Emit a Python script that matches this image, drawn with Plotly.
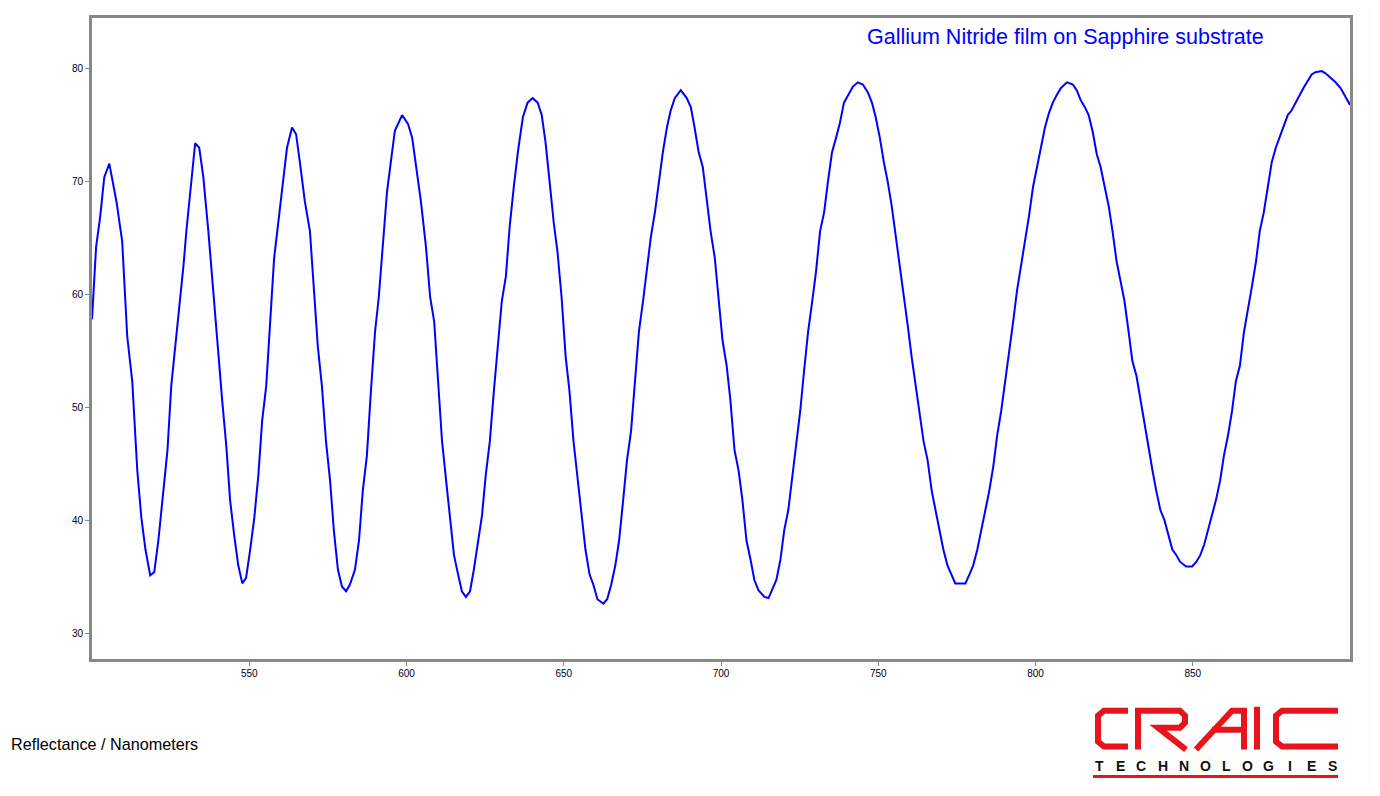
import plotly.graph_objects as go

# ---- data ----
wavelength_nm = [
    500.0, 501.3, 502.6, 503.9, 505.5, 507.8, 509.6, 511.2, 512.8, 514.4, 515.7, 517.0, 518.5, 519.8,
    521.1, 522.7, 524.0, 525.2, 526.8, 528.1, 529.1, 530.0, 531.2, 532.8, 534.1,
    535.4, 537.0, 538.5, 540.1, 541.4, 542.7, 543.9, 545.2, 546.5, 547.8, 549.0,
    550.3, 551.6, 552.9, 554.1, 555.4, 556.7, 557.9, 559.2, 560.8, 562.0, 563.6, 564.9,
    566.1, 567.7, 569.3, 570.6, 571.8, 573.1, 574.4, 575.7, 576.9, 578.2, 579.5, 580.8, 582.0,
    583.6, 584.9, 586.1, 587.4, 588.7, 590.0, 591.2, 592.5, 593.8, 595.0, 596.3, 598.6, 600.5, 601.8,
    603.0, 604.6, 606.2, 607.5, 608.8, 610.0, 611.3, 612.6, 613.8, 615.1, 616.4, 617.6, 618.9, 620.2,
    621.4, 622.7, 624.0, 625.2, 626.5, 627.8, 629.0, 630.3, 631.6, 632.8, 634.1, 635.4, 637.0, 638.5,
    640.1, 641.7, 643.0,
    644.2, 645.5, 646.8, 648.0, 649.3, 650.6, 651.8, 653.1, 654.4, 655.6, 656.9, 658.2, 659.4, 660.7,
    662.6, 663.8,
    665.1, 666.4, 667.6, 668.9, 670.1, 671.4, 672.7, 673.9, 675.2, 676.4, 677.7, 679.0, 680.2, 681.5,
    682.8, 684.0, 685.3, 687.2, 689.1, 690.4,
    691.6, 692.9, 694.2, 695.4, 696.7, 698.0, 699.2, 700.5, 701.8, 703.0, 704.3, 705.6, 706.8, 708.1,
    709.4, 710.6, 711.9, 713.8, 715.1, 716.3,
    717.6, 718.9, 720.1, 721.4, 722.7, 723.9, 725.2, 726.4, 727.7, 729.0, 730.2, 731.5, 732.8, 734.0,
    735.3, 736.6, 737.8, 739.1, 740.4, 741.9, 743.5, 745.1, 746.7, 748.0,
    749.2, 750.5, 751.8, 753.0, 754.3, 755.6, 756.8, 758.1, 759.4, 760.6, 761.9, 763.2, 764.4, 765.7,
    767.0, 768.2, 769.5, 770.7, 772.0, 773.3, 774.5, 776.1, 777.7, 779.0,
    780.2, 781.5, 782.8, 784.0, 785.3, 786.6, 787.8, 789.1, 790.4, 791.6, 792.9, 794.1, 795.4, 796.7,
    797.9, 799.2, 800.5, 801.7, 803.0, 804.3, 805.5, 806.8, 808.1, 810.0, 811.9, 813.1, 814.4,
    815.7, 816.9, 818.2, 819.5, 820.7, 822.0, 823.3, 824.5, 825.8, 827.1, 828.3, 829.6, 830.8, 832.1,
    833.4, 834.6, 835.9, 837.2, 838.4, 839.7, 841.0, 842.2, 843.5, 844.8, 846.0, 847.9, 849.8, 851.1,
    852.4, 853.6, 854.9, 856.2, 857.4, 858.7, 859.9, 861.2, 862.5, 863.7, 865.0, 866.3, 867.5, 868.8,
    870.1, 871.3, 872.6, 873.9, 875.1, 876.4, 877.6, 878.9, 880.2, 881.4, 882.7, 884.0, 885.2, 886.5,
    887.8, 889.0, 891.0, 892.2, 893.8, 895.4, 897.0, 898.6, 900.0,
]
reflectance_pct = [
    57.8, 64.2, 66.9, 70.4, 71.6, 68.2, 64.7, 56.3, 52.3, 44.4, 40.2, 37.4, 35.1, 35.4,
    38.2, 42.6, 46.2, 51.9, 56.3, 59.4, 62.6, 65.6, 69.1, 73.4, 73.0,
    70.4, 65.6, 60.3, 55.4, 50.6, 46.6, 41.8, 38.7, 36.0, 34.4, 34.9,
    37.4, 40.2, 44.0, 48.8, 51.9, 57.6, 63.2, 66.3, 70.4, 73.0, 74.8, 74.2,
    71.7, 68.2, 65.6, 60.3, 55.4, 51.9, 47.0, 43.5, 39.1, 35.6, 34.1, 33.7, 34.3,
    35.6, 38.2, 42.6, 45.7, 51.5, 56.7, 59.8, 64.2, 69.1, 71.7, 74.5, 75.9, 75.1, 73.9,
    71.3, 68.2, 64.2, 59.8, 57.6, 52.3, 47.0, 43.5, 40.0, 36.9, 35.2, 33.7, 33.2, 33.7,
    35.6, 38.2, 40.4, 44.0, 47.0, 51.5, 55.0, 59.4, 61.6, 66.0, 69.5, 72.6, 75.7, 77.0,
    77.4, 77.0, 75.9,
    73.5, 70.0, 66.4, 63.8, 59.8, 54.5, 51.5, 47.0, 43.5, 40.4, 37.4, 35.2, 34.3, 33.0,
    32.6, 33.0,
    34.3, 36.0, 38.2, 41.8, 45.3, 47.9, 52.3, 56.7, 59.4, 62.0, 65.1, 67.3, 70.0, 72.6,
    74.8, 76.3, 77.4, 78.1, 77.4, 76.6,
    74.8, 72.6, 71.3, 68.6, 65.6, 63.3, 59.4, 55.9, 53.7, 50.6, 46.2, 44.4, 41.8, 38.2,
    36.5, 34.7, 33.8, 33.2, 33.1, 33.8,
    34.7, 36.5, 39.1, 40.9, 44.0, 47.0, 49.7, 53.2, 56.7, 59.4, 62.0, 65.6, 67.3, 70.0,
    72.6, 73.9, 75.2, 77.0, 77.7, 78.4, 78.8, 78.6, 77.9, 77.0,
    75.7, 73.9, 71.7, 70.0, 67.8, 65.1, 62.9, 60.3, 57.2, 54.5, 51.9, 49.7, 47.0, 45.3,
    42.6, 40.9, 39.1, 37.4, 36.0, 35.2, 34.4, 34.4, 34.4, 35.2,
    36.0, 37.4, 39.1, 40.9, 42.6, 44.8, 47.5, 49.7, 52.3, 55.0, 57.6, 60.3, 62.5, 64.7,
    66.9, 69.5, 71.3, 73.0, 74.8, 76.1, 77.0, 77.7, 78.3, 78.8, 78.6, 78.1, 77.2,
    76.6, 75.9, 74.4, 72.4, 71.3, 69.5, 67.8, 65.6, 62.9, 61.1, 59.4, 56.7, 54.1, 52.8,
    50.6, 48.4, 46.2, 44.4, 42.6, 40.9, 40.0, 38.7, 37.4, 36.9, 36.3, 35.9, 35.9, 36.3,
    36.9, 37.8, 39.1, 40.4, 41.8, 43.5, 45.7, 47.5, 49.7, 52.3, 53.7, 56.7, 58.5, 60.7,
    62.9, 65.6, 67.3, 69.5, 71.7, 73.0, 73.9, 74.8, 75.9, 76.3, 77.0, 77.7, 78.3, 78.9,
    79.5, 79.7, 79.8, 79.6, 79.2, 78.8, 78.3, 77.5, 76.8,
]
x_ticks = [550, 600, 650, 700, 750, 800, 850]
y_ticks = [30, 40, 50, 60, 70, 80]
title_text = "Gallium Nitride film on Sapphire substrate"
axis_caption = "Reflectance / Nanometers"
logo_sub = "TECHNOLOGIES"

# page offset (body margin) is 8 px; screen coordinates below are converted
OFF = 8
W, H = 1380 - 2 * OFF, 796 - 2 * OFF
L, T = 92 - OFF, 15 - OFF
R = W - (1350 - OFF)
B = H - (659 - OFF)
PW, PH = W - L - R, H - T - B


def px(x):
    return (x - OFF - L) / PW


def py(y):
    return (H - B - (y - OFF)) / PH


fig = go.Figure()
fig.add_trace(go.Scatter(
    x=wavelength_nm, y=reflectance_pct, mode="lines",
    line=dict(color="#0000FF", width=2), showlegend=False, hoverinfo="x+y",
))

axis_common = dict(
    showgrid=False, zeroline=False, showline=True, linecolor="#888888", linewidth=3,
    mirror=True, ticks="outside", ticklen=4, tickcolor="#888888", tickwidth=1,
    tickfont=dict(family="Liberation Sans, Arial", size=10, color="#000022"),
)
fig.update_xaxes(range=[500, 900], tickvals=x_ticks, ticktext=[str(v) for v in x_ticks],
                 ticklabelstandoff=-1, **axis_common)
fig.update_yaxes(range=[27.7, 84.5], tickvals=y_ticks, ticktext=[str(v) for v in y_ticks], **axis_common)

annotations = [
    dict(text=title_text, x=px(1065), y=py(34), xref="paper", yref="paper",
         showarrow=False, xanchor="center", yanchor="middle",
         font=dict(family="Liberation Sans, Arial", size=21.5, color="#0000FF")),
    dict(text=axis_caption, x=px(9), y=py(744), xref="paper", yref="paper",
         showarrow=False, xanchor="left", yanchor="middle",
         font=dict(family="Liberation Sans, Arial", size=16.2, color="#000000")),
]
# TECHNOLOGIES letters, spaced out
for i, ch in enumerate(logo_sub):
    cx = 1099 + i * 21.2
    annotations.append(dict(text="<b>%s</b>" % ch, x=px(cx), y=py(767), xref="paper", yref="paper",
                            showarrow=False, xanchor="center", yanchor="middle",
                            font=dict(family="Liberation Sans, Arial", size=14, color="#111111")))

red = "#E8141B"


def path(points):
    s = "M %f %f" % (px(points[0][0]), py(points[0][1]))
    for p in points[1:]:
        s += " L %f %f" % (px(p[0]), py(p[1]))
    return s


logo_paths = [
    # C
    [(1128, 711), (1104, 711), (1098, 716), (1098, 742), (1104, 747), (1128, 747)],
    # R
    [(1138, 750), (1138, 711), (1180, 711), (1185, 716), (1185, 723), (1180, 728), (1158, 728), (1186, 750)],
    # A
    [(1196, 750), (1232, 711), (1244, 711), (1244, 750)],
    [(1212, 730), (1244, 730)],
    # I
    [(1257, 707), (1257, 750)],
    # C
    [(1338, 711), (1282, 711), (1276, 716), (1276, 742), (1282, 747), (1338, 747)],
]
shapes = []
for pts in logo_paths:
    shapes.append(dict(type="path", path=path(pts), xref="paper", yref="paper",
                       line=dict(color=red, width=6)))
shapes.append(dict(type="line", x0=px(1093), x1=px(1338), y0=py(777), y1=py(777),
                   xref="paper", yref="paper", line=dict(color=red, width=3)))

fig.update_layout(
    width=W, height=H, margin=dict(l=L, r=R, t=T, b=B),
    paper_bgcolor="#FDFEFD", plot_bgcolor="#FDFEFD",
    annotations=annotations, shapes=shapes,
)

fig.write_html("out.html")
